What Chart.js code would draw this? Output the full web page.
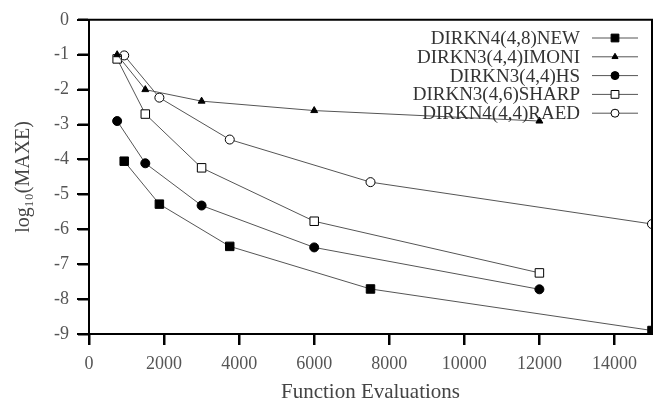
<!DOCTYPE html>
<html>
<head>
<meta charset="utf-8">
<script src="https://cdn.jsdelivr.net/npm/chart.js@4.4.1/dist/chart.umd.min.js"></script>
<style>
  html, body { margin: 0; padding: 0; background: #fff; }
  #wrap { width: 659px; height: 403px; }
</style>
</head>
<body>
<div id="wrap"><canvas id="c" width="659" height="403"></canvas></div>
<script>
// function evaluations (x) per method
const evalsA = [938, 1875, 3750, 7500, 15000];
const evalsB = [750, 1500, 3000, 6000, 12000];

// log10(MAXE) per method
const newVals = [-4.05, -5.28, -6.49, -7.71, -8.9];
const imoniVals = [-1.0, -2.0, -2.33, -2.6, -2.9];
const hsVals = [-2.9, -4.11, -5.32, -6.52, -7.72];
const sharpVals = [-1.12, -2.7, -4.24, -5.77, -7.25];
const raedVals = [-1.02, -2.23, -3.43, -4.65, -5.85];

const seriesNames = ['DIRKN4(4,8)NEW', 'DIRKN3(4,4)IMONI', 'DIRKN3(4,4)HS', 'DIRKN3(4,6)SHARP', 'DIRKN4(4,4)RAED'];

const xTicks = [0, 2000, 4000, 6000, 8000, 10000, 12000, 14000];
const yTicks = [0, -1, -2, -3, -4, -5, -6, -7, -8, -9];

const SERIF = '"Liberation Serif", "DejaVu Serif", serif';

function pts(xs, ys) {
    return xs.map((x, i) => ({ x: x, y: ys[i] }));
}

const markers = [
    { style: 'rect', radius: 6, fill: '#000' },
    { style: 'triangle', radius: 4, fill: '#000' },
    { style: 'circle', radius: 4.5, fill: '#000' },
    { style: 'rect', radius: 6, fill: '#fff' },
    { style: 'circle', radius: 4.5, fill: '#fff' },
];

const seriesData = [
    pts(evalsA, newVals),
    pts(evalsB, imoniVals),
    pts(evalsB, hsVals),
    pts(evalsB, sharpVals),
    pts(evalsA, raedVals),
];

const datasets = seriesData.map((d, i) => ({
    label: seriesNames[i],
    data: d,
    borderColor: '#555',
    borderWidth: 1,
    pointStyle: markers[i].style,
    pointRadius: markers[i].radius,
    pointBackgroundColor: markers[i].fill,
    pointBorderColor: '#000',
    pointBorderWidth: 1,
    tension: 0,
}));

// frame, outward tick marks and the legend (sample sits right of the text)
const framePlugin = {
    id: 'frame',
    afterDraw(chart) {
        const { ctx, chartArea: a, scales } = chart;
        ctx.save();
        ctx.strokeStyle = '#000';
        ctx.lineWidth = 2;
        ctx.beginPath();
        ctx.moveTo(a.left - 1, a.top);
        ctx.lineTo(a.right, a.top);
        ctx.lineTo(a.right, a.bottom);
        ctx.stroke();

        ctx.beginPath();
        xTicks.forEach(v => {
            const px = Math.round(scales.x.getPixelForValue(v));
            ctx.moveTo(px, a.bottom);
            ctx.lineTo(px, a.bottom + 11);
        });
        yTicks.forEach(v => {
            const py = Math.round(scales.y.getPixelForValue(v));
            ctx.moveTo(a.left, py);
            ctx.lineTo(a.left - 12, py);
        });
        ctx.stroke();

        // legend
        ctx.font = '19px ' + SERIF;
        ctx.textAlign = 'right';
        ctx.textBaseline = 'middle';
        const textRight = 580, lineL = 592, lineR = 638, rowTop = 38, rowStep = 18.8;
        seriesNames.forEach((name, i) => {
            const y = rowTop + i * rowStep;
            ctx.fillStyle = '#333';
            ctx.fillText(name, textRight, y + 1);
            ctx.strokeStyle = '#555';
            ctx.lineWidth = 1;
            ctx.beginPath();
            ctx.moveTo(lineL, y);
            ctx.lineTo(lineR, y);
            ctx.stroke();
            const m = markers[i];
            ctx.fillStyle = m.fill;
            ctx.strokeStyle = '#000';
            Chart.helpers.drawPoint(ctx, { pointStyle: m.style, radius: m.radius - 0.5, borderWidth: 1 }, (lineL + lineR) / 2, y);
        });
        ctx.restore();
    }
};

new Chart(document.getElementById('c'), {
    type: 'line',
    data: { datasets: datasets },
    options: {
        responsive: false,
        animation: false,
        layout: { padding: { top: 17, right: 2, left: 0, bottom: 0 } },
        plugins: {
            legend: { display: false },
            tooltip: { enabled: false },
        },
        scales: {
            x: {
                type: 'linear',
                min: 0,
                max: 15000,
                afterBuildTicks: (s) => { s.ticks = xTicks.map(v => ({ value: v })); },
                afterFit: (s) => { s.height = 69; },
                grid: {
                    drawOnChartArea: false,
                    drawTicks: true,
                    tickLength: 11,
                    tickWidth: 2,
                    tickColor: '#000',
                },
                border: { display: true, color: '#000', width: 2 },
                ticks: {
                    color: '#555',
                    padding: 8,
                    maxRotation: 0,
                    font: { family: SERIF, size: 18 },
                    callback: (v) => String(v),
                },
                title: {
                    display: true,
                    text: 'Function Evaluations',
                    color: '#444',
                    font: { family: SERIF, size: 21, lineHeight: 1 },
                    padding: { top: 0, bottom: 0 },
                },
            },
            y: {
                type: 'linear',
                min: -9,
                max: 0,
                afterFit: (s) => { s.width = 89; },
                grid: {
                    drawOnChartArea: false,
                    drawTicks: true,
                    tickLength: 11,
                    tickWidth: 2,
                    tickColor: '#000',
                },
                border: { display: true, color: '#000', width: 2 },
                ticks: {
                    stepSize: 1,
                    color: '#555',
                    padding: 9,
                    font: { family: SERIF, size: 18 },
                    callback: (v) => String(v),
                },
                title: {
                    display: true,
                    text: 'log\u2081\u2080(MAXE)',
                    color: '#444',
                    font: { family: SERIF, size: 20 },
                    padding: { top: 12, bottom: 0 },
                },
            },
        },
    },
    plugins: [framePlugin],
});
</script>
</body>
</html>
